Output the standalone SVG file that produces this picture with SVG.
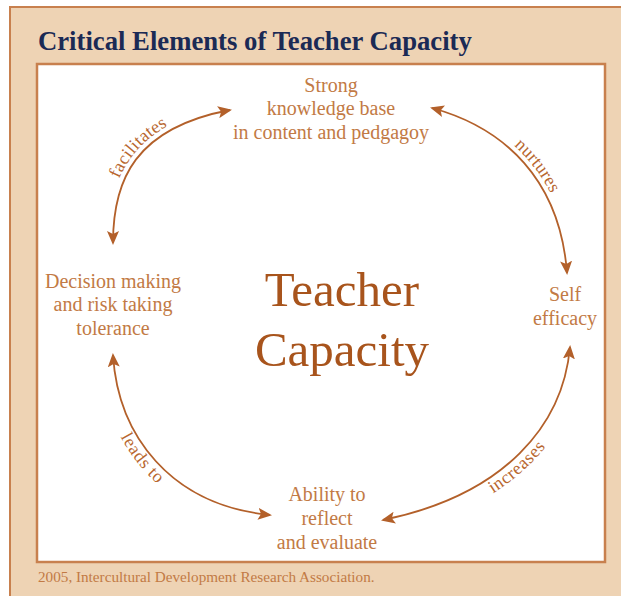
<svg xmlns="http://www.w3.org/2000/svg" width="621" height="596" viewBox="0 0 621 596">
<style>
.node{font-family:"Liberation Serif","Times New Roman",serif;font-size:20px;fill:#c27a45;text-anchor:middle}
.lbl{font-family:"Liberation Serif","Times New Roman",serif;font-size:18px;fill:#b8672f}
.arc{fill:none;stroke:#b3602a;stroke-width:1.8}
</style>
<defs>
<marker id="ah" viewBox="0 0 14 12" refX="12" refY="6" markerWidth="14" markerHeight="12" markerUnits="userSpaceOnUse" orient="auto-start-reverse">
<path d="M0,0 L14,6 L0,12 L3,6 z" fill="#b3602a"/>
</marker>
<path id="p1" d="M113,243 C113,180 135,128 230,110"/>
<path id="p2" d="M432,108 C505,128 560,180 567,273"/>
<path id="p3" d="M113,355 C118,435 170,505 270,515"/>
<path id="p4" d="M383,520 C505,495 563,425 570,347"/>
</defs>
<rect x="10" y="7" width="620" height="600" fill="#eed3b4" stroke="#c8804e" stroke-width="2"/>
<text x="38" y="50" font-family="Liberation Serif,Times New Roman,serif" font-size="26.7" font-weight="bold" fill="#1b2a55">Critical Elements of Teacher Capacity</text>
<rect x="37" y="64" width="568" height="498" fill="#ffffff" stroke="#c8804e" stroke-width="2.5"/>
<text x="38" y="582" font-family="Liberation Serif,Times New Roman,serif" font-size="15.2" fill="#c27a45">2005, Intercultural Development Research Association.</text>
<g id="center">
<text x="342" y="306" font-family="Liberation Serif,Times New Roman,serif" font-size="49" fill="#a8541c" text-anchor="middle">Teacher</text>
<text x="342" y="366" font-family="Liberation Serif,Times New Roman,serif" font-size="49" fill="#a8541c" text-anchor="middle">Capacity</text>
</g>
<g id="connectors">
<use href="#p1" class="arc" marker-start="url(#ah)" marker-end="url(#ah)"/>
<use href="#p2" class="arc" marker-start="url(#ah)" marker-end="url(#ah)"/>
<use href="#p3" class="arc" marker-start="url(#ah)" marker-end="url(#ah)"/>
<use href="#p4" class="arc" marker-start="url(#ah)" marker-end="url(#ah)"/>
<text class="lbl" dy="-5"><textPath href="#p1" startOffset="50%" text-anchor="middle">facilitates</textPath></text>
<text class="lbl" dy="-5"><textPath href="#p2" startOffset="52%" text-anchor="middle">nurtures</textPath></text>
<text class="lbl" dy="15"><textPath href="#p3" startOffset="43%" text-anchor="middle">leads to</textPath></text>
<text class="lbl" dy="15"><textPath href="#p4" startOffset="52%" text-anchor="middle">increases</textPath></text>
</g>
<g id="knowledge">
<text class="node" x="331" y="92">Strong</text>
<text class="node" x="331" y="115">knowledge base</text>
<text class="node" x="331" y="139">in content and pedgagoy</text>
</g>
<g id="self-efficacy">
<text class="node" x="565" y="301">Self</text>
<text class="node" x="565" y="325">efficacy</text>
</g>
<g id="reflect">
<text class="node" x="327" y="501">Ability to</text>
<text class="node" x="327" y="525">reflect</text>
<text class="node" x="327" y="549">and evaluate</text>
</g>
<g id="decision">
<text class="node" x="113" y="288">Decision making</text>
<text class="node" x="113" y="311">and risk taking</text>
<text class="node" x="113" y="335">tolerance</text>
</g>
</svg>
